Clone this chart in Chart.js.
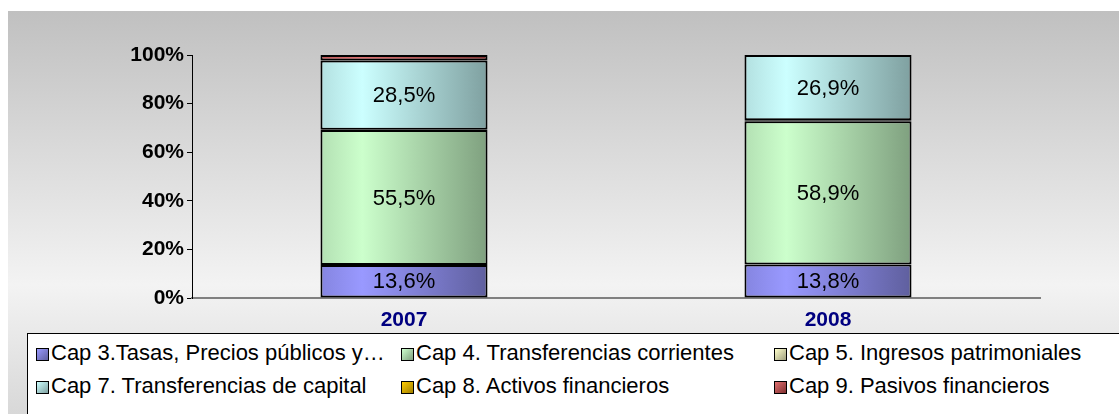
<!DOCTYPE html>
<html lang="es">
<head>
  <meta charset="UTF-8">
  <title>Ingresos por capítulos 2007-2008</title>
  <script src="https://cdn.jsdelivr.net/npm/chart.js"></script>
  <style>
    body {
      margin: 0;
      width: 1119px;
      height: 414px;
      overflow: hidden;
      background: #fff;
      font-family: Arial, "Liberation Sans", sans-serif;
    }
    #frame {
      position: absolute;
      left: 8px;
      top: 11px;
      width: 1111px;
      height: 403px;
      background: linear-gradient(to bottom, #c0c0c0 0%, #f3f3f3 68%, #d8d8d8 100%);
    }
    #chartBox {
      position: absolute;
      left: 0;
      top: 0;
      width: 1111px;
      height: 322px;
    }
    #legend {
      position: absolute;
      left: 19px;
      top: 322px;
      width: 1100px;
      height: 100px;
      background: #fff;
      border: 1px solid #000;
    }
    .item {
      position: absolute;
      font-size: 22px;
      color: #000;
      white-space: nowrap;
      line-height: 24px;
    }
    .sw {
      display: inline-block;
      width: 11px;
      height: 11px;
      border: 1px solid #000;
      margin-right: 2px;
      vertical-align: -1px;
    }
  </style>
</head>
<body>
  <div id="frame">
    <div id="chartBox"><canvas id="capChart"></canvas></div>
    <div id="legend"></div>
  </div>

  <script>
    const years = ['2007', '2008'];
    const seriesNames = [
      'Cap 3.Tasas, Precios públicos y…',
      'Cap 4. Transferencias corrientes',
      'Cap 5. Ingresos patrimoniales',
      'Cap 7. Transferencias de capital',
      'Cap 8. Activos financieros',
      'Cap 9. Pasivos financieros'
    ];
    const cap3 = [13.6, 13.8];
    const cap4 = [55.5, 58.9];
    const cap5 = [0.1, 0.4];
    const cap7 = [28.5, 26.9];
    const cap8 = [0, 0];
    const cap9 = [2.3, 0];
    const yTicks = [0, 20, 40, 60, 80, 100];

    // light / base / dark colour for the Excel-like shading
    const shades = [
      ['#9999ff', '#8585e0', '#5f5f9e'],
      ['#ccffcc', '#b3e0b3', '#7fa07f'],
      ['#ffffcc', '#e0e0b3', '#a0a07f'],
      ['#ccffff', '#b3e0e0', '#7fa0a0'],
      ['#ffcc00', '#e0b300', '#a07f00'],
      ['#e07070', '#c05858', '#803030']
    ];
    const barPct = 0.394;
    const fontFam = 'Arial, "Liberation Sans", sans-serif';

    function barFill(ctx) {
      const chart = ctx.chart;
      const xs = chart.scales.x;
      const c = shades[ctx.datasetIndex];
      if (!xs || ctx.dataIndex === undefined) return c[1];
      const center = xs.getPixelForValue(ctx.dataIndex);
      const w = (xs.width / years.length) * barPct;
      if (!isFinite(center) || !isFinite(w) || w <= 0) return c[1];
      const g = chart.ctx.createLinearGradient(center - w / 2, 0, center + w / 2, 0);
      g.addColorStop(0, c[1]);
      g.addColorStop(0.25, c[0]);
      g.addColorStop(1, c[2]);
      return g;
    }

    const values = [cap3, cap4, cap5, cap7, cap8, cap9];

    // values printed inside the big segments
    const labelPlugin = {
      id: 'segLabels',
      afterDatasetsDraw(chart) {
        const ctx = chart.ctx;
        ctx.save();
        ctx.font = '22px ' + fontFam;
        ctx.fillStyle = '#000';
        ctx.textAlign = 'center';
        ctx.textBaseline = 'middle';
        chart.data.datasets.forEach((ds, i) => {
          chart.getDatasetMeta(i).data.forEach((bar, j) => {
            const v = ds.data[j];
            if (v < 5) return;
            const mid = (bar.y + bar.base) / 2;
            ctx.fillText(v.toFixed(1).replace('.', ',') + '%', bar.x, mid + 1);
          });
        });
        ctx.restore();
      }
    };

    const ctx = document.getElementById('capChart').getContext('2d');
    const chart = new Chart(ctx, {
      type: 'bar',
      data: {
        labels: years,
        datasets: seriesNames.map((name, i) => ({
          label: name,
          data: values[i],
          backgroundColor: barFill,
          borderColor: '#000',
          borderWidth: 2,
          borderSkipped: false,
          categoryPercentage: 1,
          barPercentage: barPct
        }))
      },
      options: {
        responsive: true,
        maintainAspectRatio: false,
        animation: false,
        layout: { padding: { top: 44, right: 79, left: 0, bottom: 0 } },
        plugins: {
          legend: { display: false },
          tooltip: { enabled: false }
        },
        scales: {
          x: {
            stacked: true,
            grid: { drawOnChartArea: false, drawTicks: false },
            border: { display: true, color: '#808080', width: 2 },
            ticks: {
              color: '#000080',
              padding: 10,
              font: { family: fontFam, size: 21, weight: 'bold' }
            },
            afterFit(scale) { scale.height = 35; }
          },
          y: {
            stacked: true,
            min: 0,
            max: 100,
            afterBuildTicks(scale) { scale.ticks = yTicks.map(v => ({ value: v })); },
            grid: { drawOnChartArea: false, drawTicks: true, tickLength: 5, color: '#000' },
            border: { display: true, color: '#000', width: 1 },
            ticks: {
              color: '#000',
              padding: 3,
              callback: v => v + '%',
              font: { family: fontFam, size: 21, weight: 'bold' }
            },
            afterFit(scale) { scale.width = 184; }
          }
        }
      },
      plugins: [labelPlugin]
    });

    // legend in three columns, as in the original sheet
    const legend = document.getElementById('legend');
    const cols = [8, 373, 746];
    const rows = [7, 40];
    chart.data.datasets.forEach((ds, i) => {
      const c = shades[i];
      const el = document.createElement('div');
      el.className = 'item';
      el.style.left = cols[i % 3] + 'px';
      el.style.top = rows[Math.floor(i / 3)] + 'px';
      el.innerHTML = '<span class="sw" style="background:linear-gradient(135deg,' +
        c[0] + ',' + c[2] + ')"></span>' + ds.label;
      legend.appendChild(el);
    });
  </script>
</body>
</html>
